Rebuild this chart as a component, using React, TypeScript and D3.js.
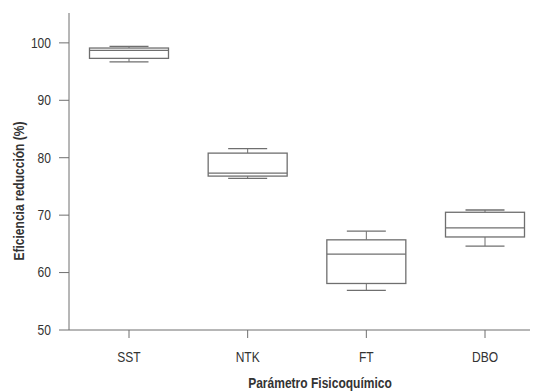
import React, { useEffect, useRef } from 'react';
import * as d3 from 'd3';

const categories = ['SST', 'NTK', 'FT', 'DBO'];
const whiskerLow = [96.7, 76.4, 56.9, 64.6];
const q1 = [97.3, 76.8, 58.1, 66.2];
const median = [98.7, 77.3, 63.2, 67.8];
const q3 = [99.1, 80.8, 65.7, 70.5];
const whiskerHigh = [99.4, 81.6, 67.2, 70.9];
const yTicks = [50, 60, 70, 80, 90, 100];

const W = 534;
const H = 392;
const font = '"Liberation Sans", Arial, sans-serif';
const lineColor = '#6f6f6f';
const textColor = '#333';
const squeeze = 0.86; // narrow look of the original font

const App: React.FC = () => {
  const svgRef = useRef<SVGSVGElement>(null);

  useEffect(() => {
    const svg = d3.select(svgRef.current);
    svg.selectAll('*').remove();

    const axisLeftX = 69;
    const axisRightX = 530;
    const axisBottomY = 330;
    const axisTopY = 13;

    const x = d3.scalePoint<string>().domain(categories).range([129, 485]);
    const y = d3.scaleLinear().domain([50, 105.2]).range([axisBottomY, axisTopY]);

    const boxHalf = 39.5;
    const capHalf = 19.5;

    // axes lines
    svg.append('line')
      .attr('x1', axisLeftX).attr('x2', axisLeftX)
      .attr('y1', axisTopY).attr('y2', axisBottomY)
      .attr('stroke', lineColor).attr('stroke-width', 1);
    svg.append('line')
      .attr('x1', axisLeftX).attr('x2', axisRightX)
      .attr('y1', axisBottomY).attr('y2', axisBottomY)
      .attr('stroke', lineColor).attr('stroke-width', 1);

    // y ticks
    const yt = svg.append('g');
    yt.selectAll('line').data(yTicks).join('line')
      .attr('x1', axisLeftX - 10).attr('x2', axisLeftX)
      .attr('y1', (d) => y(d)).attr('y2', (d) => y(d))
      .attr('stroke', lineColor);
    yt.selectAll('g').data(yTicks).join('g')
      .attr('transform', (d) => `translate(${axisLeftX - 18},${y(d)}) scale(${squeeze},1)`)
      .append('text')
      .attr('dy', '0.35em')
      .attr('text-anchor', 'end')
      .attr('font-family', font)
      .attr('font-size', 14)
      .attr('fill', textColor)
      .text((d) => d);

    // x ticks
    const xt = svg.append('g');
    xt.selectAll('line').data(categories).join('line')
      .attr('x1', (d) => x(d)!).attr('x2', (d) => x(d)!)
      .attr('y1', axisBottomY).attr('y2', axisBottomY + 8)
      .attr('stroke', lineColor);
    xt.selectAll('g').data(categories).join('g')
      .attr('transform', (d) => `translate(${x(d)},357) scale(${squeeze},1)`)
      .append('text')
      .attr('dy', '0.35em')
      .attr('text-anchor', 'middle')
      .attr('font-family', font)
      .attr('font-size', 14)
      .attr('fill', textColor)
      .text((d) => d);

    // boxes
    const boxes = svg.append('g')
      .selectAll('g')
      .data(categories.map((c, i) => ({ c, lo: whiskerLow[i], q1: q1[i], med: median[i], q3: q3[i], hi: whiskerHigh[i] })))
      .join('g');

    boxes.append('line')
      .attr('x1', (d) => x(d.c)!).attr('x2', (d) => x(d.c)!)
      .attr('y1', (d) => y(d.hi)).attr('y2', (d) => y(d.q3))
      .attr('stroke', lineColor);
    boxes.append('line')
      .attr('x1', (d) => x(d.c)!).attr('x2', (d) => x(d.c)!)
      .attr('y1', (d) => y(d.q1)).attr('y2', (d) => y(d.lo))
      .attr('stroke', lineColor);
    boxes.append('line')
      .attr('x1', (d) => x(d.c)! - capHalf).attr('x2', (d) => x(d.c)! + capHalf)
      .attr('y1', (d) => y(d.hi)).attr('y2', (d) => y(d.hi))
      .attr('stroke', lineColor).attr('stroke-width', 1.3);
    boxes.append('line')
      .attr('x1', (d) => x(d.c)! - capHalf).attr('x2', (d) => x(d.c)! + capHalf)
      .attr('y1', (d) => y(d.lo)).attr('y2', (d) => y(d.lo))
      .attr('stroke', lineColor).attr('stroke-width', 1.3);
    boxes.append('rect')
      .attr('x', (d) => x(d.c)! - boxHalf)
      .attr('width', boxHalf * 2)
      .attr('y', (d) => y(d.q3))
      .attr('height', (d) => y(d.q1) - y(d.q3))
      .attr('fill', 'white')
      .attr('stroke', lineColor)
      .attr('stroke-width', 1.3);
    boxes.append('line')
      .attr('x1', (d) => x(d.c)! - boxHalf).attr('x2', (d) => x(d.c)! + boxHalf)
      .attr('y1', (d) => y(d.med)).attr('y2', (d) => y(d.med))
      .attr('stroke', lineColor).attr('stroke-width', 1.3);

    // axis titles
    svg.append('g')
      .attr('transform', `translate(320,383) scale(${squeeze},1)`)
      .append('text')
      .attr('dy', '0.35em')
      .attr('text-anchor', 'middle')
      .attr('font-family', font)
      .attr('font-size', 14)
      .attr('font-weight', 'bold')
      .attr('fill', textColor)
      .text('Parámetro Fisicoquímico');

    svg.append('g')
      .attr('transform', `translate(19,191) rotate(-90) scale(${squeeze},1)`)
      .append('text')
      .attr('dy', '0.35em')
      .attr('text-anchor', 'middle')
      .attr('font-family', font)
      .attr('font-size', 14)
      .attr('font-weight', 'bold')
      .attr('fill', textColor)
      .text('Eficiencia reducción (%)');
  }, []);

  return (
    <div style={{ position: 'absolute', left: 0, top: 0 }}>
      <svg ref={svgRef} width={W} height={H} style={{ display: 'block', background: 'white' }} />
    </div>
  );
};

export default App;
